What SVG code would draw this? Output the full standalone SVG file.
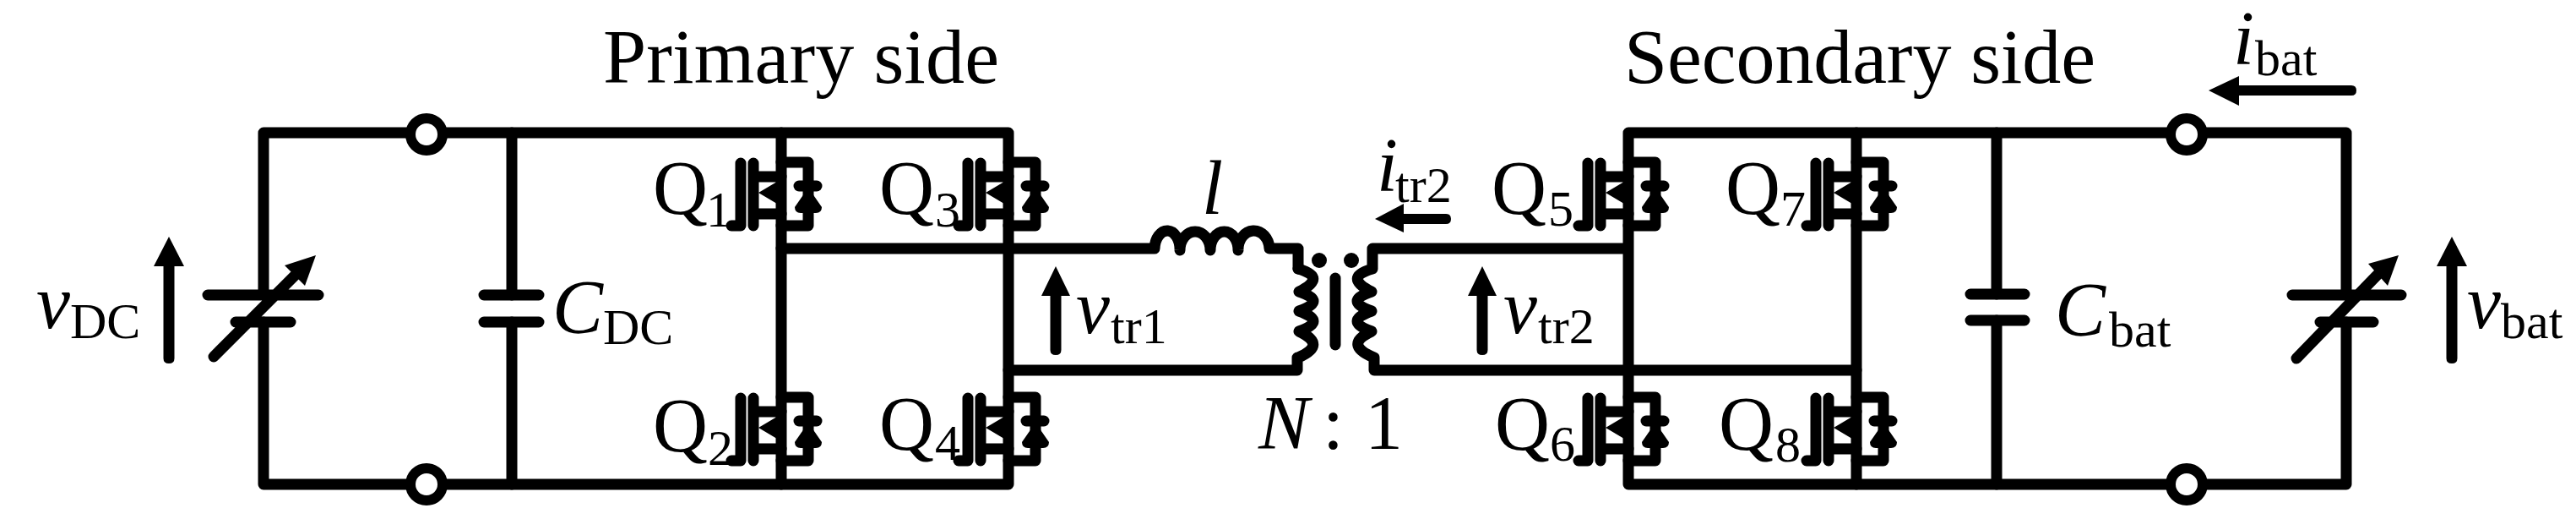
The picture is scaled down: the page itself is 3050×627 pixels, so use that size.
<svg xmlns="http://www.w3.org/2000/svg" xmlns:xlink="http://www.w3.org/1999/xlink" width="3050" height="627" viewBox="0 0 3050 627">
<style>
text{font-family:"Liberation Serif","Times New Roman",serif;fill:#000}
.m{font-size:90px}.h{font-size:92px}.q{font-size:90px}.s{font-size:60px}.i{font-style:italic}
.w{fill:none;stroke:#000;stroke-width:13;stroke-linecap:round;stroke-linejoin:round}
.f{fill:#000;stroke:none}
</style>
<defs>
<g id="mosfet">
<path class="w" d="M866 267H877V193M892 193V267M892 209H925M892 253H925M925 192H957V267H925"/>
<path class="w" d="M946 220H967"/>
<path class="f" d="M898 228L925 212V244ZM957 222L973 245Q973 252 966 252H948Q941 252 941 245Z"/>
<path class="f" d="M925 214Q937 228 925 242Z"/>
</g>
<path id="vup" class="f" d="M0 0L18 35H6.500V144Q6.500 150 0 150Q-6.500 150 -6.500 144V35H-18Z"/>
<path id="vtr" class="f" d="M0 0L17 35H6.500V99Q6.500 105 0 105Q-6.500 105 -6.500 99V35H-17Z"/>
</defs>
<rect width="3050" height="627" fill="#fff"/>
<g id="connectors">
<path class="w" d="M312 349V157H1194V573H312V381M1928 157H2778V349M2778 381V573H1928V157"/>
<path class="w" d="M606 157V349M606 381V573M2364 157V348M2364 379V573"/>
<path class="w" d="M925 157V573M2198 157V573"/>
<path class="w" d="M925 294H1367A15 22 0 0 1 1397 296A18 22 0 0 1 1433 296A16.500 22 0 0 1 1466 296A18.500 22 0 0 1 1503 294H1537V318"/>
<path class="w" d="M1194 438H1536V423M1537 318Q1572 328 1538 345Q1572 356 1538 368Q1572 380 1538 392Q1572 408 1537 423"/>
<path class="w" d="M1925 294H1625V318M1625 318Q1590 328 1624 345Q1590 356 1624 368Q1590 380 1624 392Q1590 408 1627 423V438H2198"/>
<path class="w" d="M1581 329V408"/>
</g>
<g id="source-dc">
<path class="w" d="M246 349H377M279 381H344M253 422L349 326"/>
<path class="f" d="M374 302L337 314L361 338Z"/>
</g>
<g id="source-bat">
<path class="w" d="M2714 349H2843M2747 381H2810M2719 424L2815 325"/>
<path class="f" d="M2840 302L2804 312L2827 338Z"/>
</g>
<g id="cap-dc"><path class="w" d="M573 349H638M573 381H638"/></g>
<g id="cap-bat"><path class="w" d="M2333 348H2397M2333 379H2397"/></g>
<g id="terminals" fill="#fff" stroke="#000" stroke-width="12">
<circle cx="505" cy="159" r="19"/><circle cx="505" cy="573" r="19"/>
<circle cx="2589" cy="159" r="19"/><circle cx="2589" cy="573" r="19"/>
</g>
<g id="dots"><circle class="f" cx="1562" cy="308" r="9"/><circle class="f" cx="1600" cy="308" r="9"/></g>
<g id="Q1"><use xlink:href="#mosfet"/><text class="q" x="773" y="253">Q</text><text class="s" x="836" y="268">1</text></g>
<g id="Q2"><use xlink:href="#mosfet" y="278"/><text class="q" x="773" y="534">Q</text><text class="s" x="838" y="550">2</text></g>
<g id="Q3"><use xlink:href="#mosfet" x="269"/><text class="q" x="1041" y="253">Q</text><text class="s" x="1107" y="268">3</text></g>
<g id="Q4"><use xlink:href="#mosfet" x="269" y="278"/><text class="q" x="1041" y="532">Q</text><text class="s" x="1107" y="544">4</text></g>
<g id="Q5"><use xlink:href="#mosfet" x="1003"/><text class="q" x="1766" y="253">Q</text><text class="s" x="1833" y="267">5</text></g>
<g id="Q6"><use xlink:href="#mosfet" x="1003" y="278"/><text class="q" x="1770" y="532">Q</text><text class="s" x="1835" y="545">6</text></g>
<g id="Q7"><use xlink:href="#mosfet" x="1273"/><text class="q" x="2043" y="253">Q</text><text class="s" x="2108" y="267">7</text></g>
<g id="Q8"><use xlink:href="#mosfet" x="1273" y="278"/><text class="q" x="2035" y="532">Q</text><text class="s" x="2102" y="546">8</text></g>
<g id="arrows">
<use xlink:href="#vup" x="200" y="280"/>
<use xlink:href="#vtr" x="1250" y="315"/>
<use xlink:href="#vtr" x="1755" y="315"/>
<use xlink:href="#vup" x="2903" y="280"/>
<path class="f" d="M1628 259L1662 241V253H1712Q1718 253 1718 259Q1718 265 1712 265H1662V275Z"/>
<path class="f" d="M2615 107L2651 90V101H2784Q2790 101 2790 107Q2790 113 2784 113H2651V125Z"/>
</g>
<g id="labels">
<text class="h" x="714" y="98" textLength="469">Primary side</text>
<text class="h" x="1923" y="98" textLength="558">Secondary side</text>
<text class="m i" x="43" y="388">v</text><text class="s" x="83" y="400">DC</text>
<text class="m i" x="654" y="394">C</text><text class="s" x="714" y="407">DC</text>
<text class="m i" x="1274" y="394">v</text><text class="s" x="1315" y="406">tr1</text>
<text class="m i" x="1423" y="253">l</text>
<text class="m i" x="1630" y="226">i</text><text class="s" x="1652" y="239">tr2</text>
<text class="m i" x="1780" y="394">v</text><text class="s" x="1821" y="406">tr2</text>
<text class="m i" x="1490" y="531">N</text><text class="m" x="1566" y="531">:</text><text class="m" x="1616" y="531">1</text>
<text class="m i" x="2644" y="76">i</text><text class="s" x="2670" y="89">bat</text>
<text class="m i" x="2433" y="397">C</text><text class="s" x="2497" y="410">bat</text>
<text class="m i" x="2921" y="388">v</text><text class="s" x="2961" y="400">bat</text>
</g>
</svg>
